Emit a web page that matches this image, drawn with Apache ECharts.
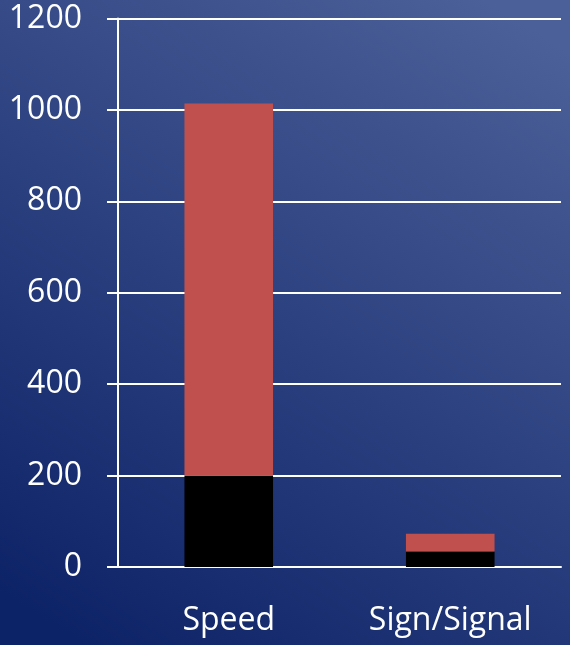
<!DOCTYPE html>
<html>
<head>
<meta charset="utf-8">
<script src="https://cdn.jsdelivr.net/npm/echarts@6/dist/echarts.min.js"></script>
<style>html,body{margin:0;padding:0;}#c{width:570px;height:645px;}</style>
</head>
<body>
<div id="c"></div>
<script>
const categories = ['Speed', 'Sign/Signal'];
const blackValues = [200, 34];
const redValues = [814, 39];
const yTicks = [0, 200, 400, 600, 800, 1000, 1200];

const chart = echarts.init(document.getElementById('c'));
const font = '"Open Sans", sans-serif';
chart.setOption({
  backgroundColor: {
    type: 'linear', x: 0.15, y: 1, x2: 0.85, y2: 0,
    colorStops: [{offset: 0, color: '#0d2367'}, {offset: 1, color: '#4b5f98'}]
  },
  animation: false,
  grid: {left: 118, right: 9, top: 18.5, bottom: 78, containLabel: false},
  xAxis: {
    type: 'category',
    data: categories,
    axisLine: {lineStyle: {color: '#ffffff', width: 2}},
    axisTick: {length: 12, lineStyle: {color: '#ffffff', width: 2}},
    axisLabel: {
      interval: 0,
      color: '#ffffff', fontFamily: font, fontSize: 32, margin: 38
    }
  },
  yAxis: {
    type: 'value',
    min: yTicks[0], max: yTicks[yTicks.length - 1], interval: 200,
    axisLine: {show: true, lineStyle: {color: '#ffffff', width: 2}},
    axisTick: {show: true, length: 11, lineStyle: {color: '#ffffff', width: 2}},
    splitLine: {show: true, lineStyle: {color: '#ffffff', width: 2}},
    axisLabel: {color: '#ffffff', fontFamily: font, fontSize: 32, margin: 36,
      formatter: function (v) { return String(v); }}
  },
  series: [
    {type: 'bar', stack: 's', data: blackValues, barWidth: '40%', itemStyle: {color: '#000000'}},
    {type: 'bar', stack: 's', data: redValues, barWidth: '40%', itemStyle: {color: '#c0504d'}}
  ]
});
</script>
</body>
</html>
